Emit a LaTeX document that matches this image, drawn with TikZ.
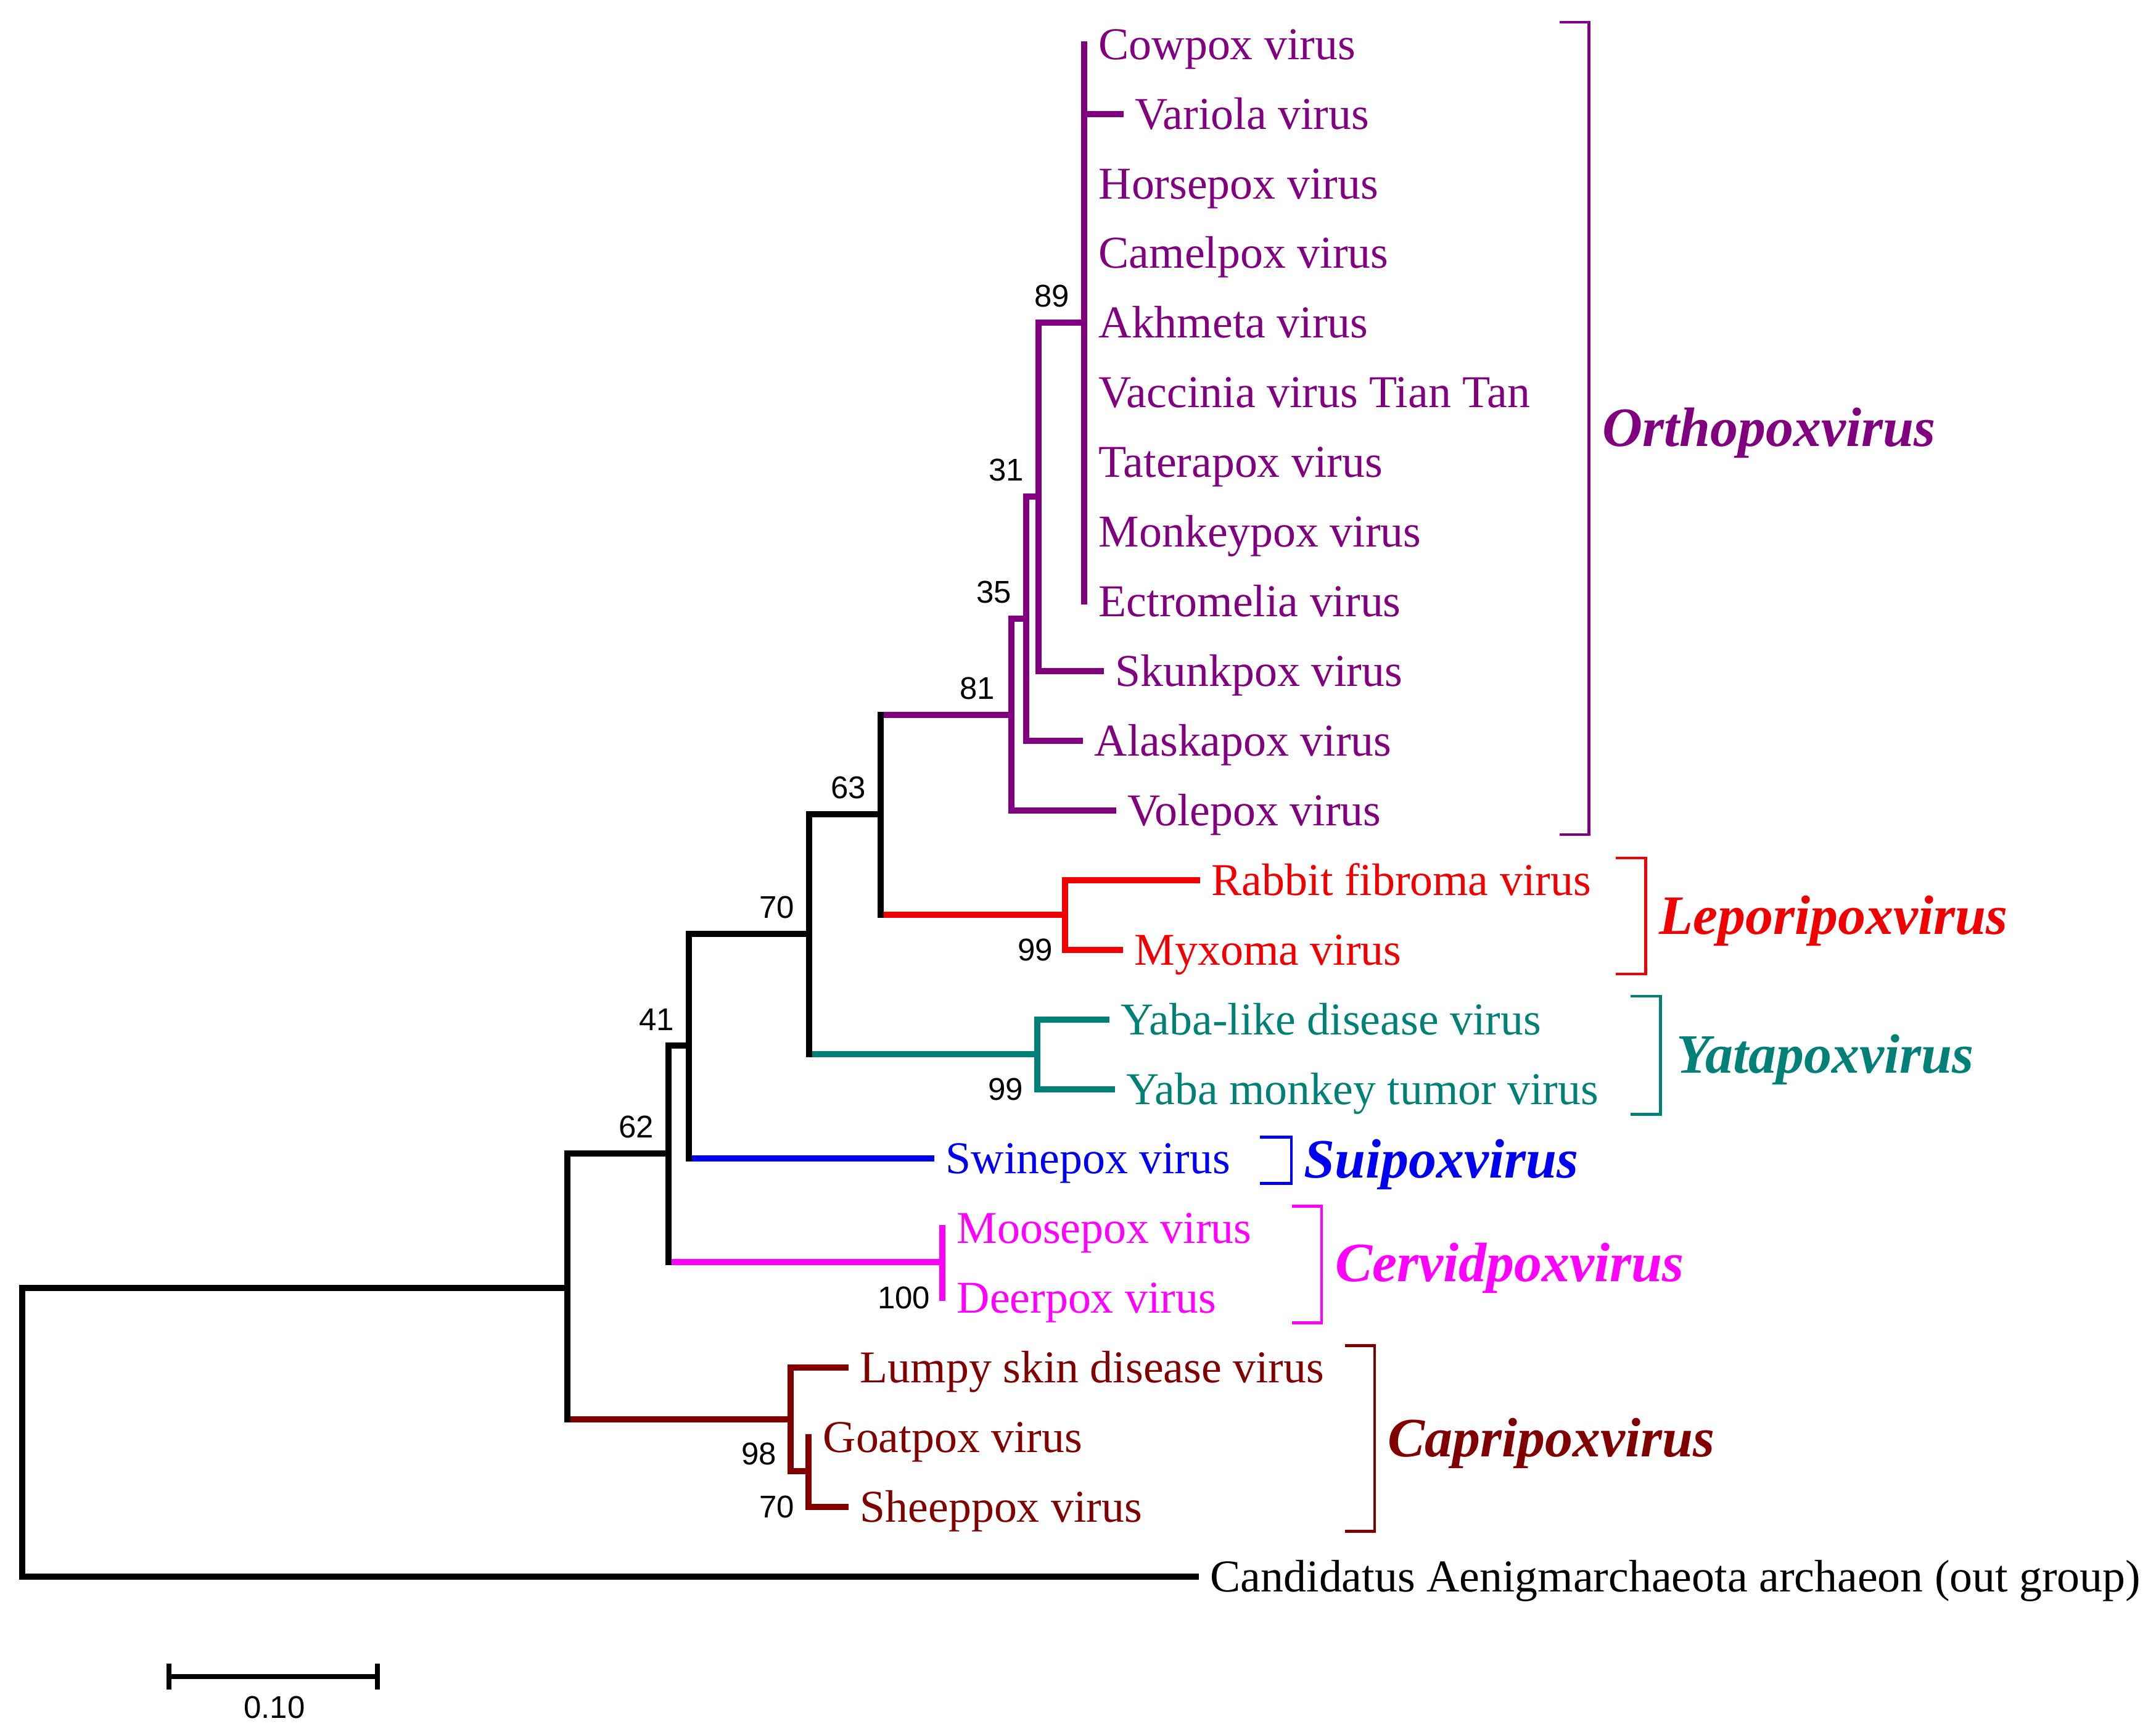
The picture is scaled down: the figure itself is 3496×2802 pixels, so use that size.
\documentclass[tikz,border=0pt]{standalone}
\usepackage{fontspec}
\setmainfont{Liberation Serif}
\newfontfamily\bootfont{Liberation Sans}
\definecolor{orthoc}{RGB}{128,0,128}
\definecolor{lepc}{RGB}{240,0,0}
\definecolor{yatc}{RGB}{0,128,118}
\definecolor{suic}{RGB}{0,0,240}
\definecolor{cerc}{RGB}{255,0,255}
\definecolor{capc}{RGB}{128,0,0}
\begin{document}
\begin{tikzpicture}[x=0.1mm, y=-0.1mm,
    br/.style={line width=3pt, line cap=rect},
    leaf/.style={anchor=west, inner xsep=2.3mm, inner ysep=0pt, text height=13.9pt, text depth=0pt, font=\fontsize{21}{25}\selectfont},
    bs/.style={inner sep=0pt, font=\bootfont\fontsize{14.5}{17}\selectfont},
    genus/.style={anchor=west, inner sep=0pt, text height=16.9pt, text depth=0pt, font=\fontsize{25.6}{30}\selectfont\bfseries\itshape},
    brak/.style={line width=1.4pt}]
\useasboundingbox (0,0) rectangle (3496,2802);

% inner nodes
\coordinate (root) at (36,2320);
\coordinate (ingr) at (920,2088);
\coordinate (n62) at (1084,1870);
\coordinate (n41) at (1117,1695);
\coordinate (n70) at (1312,1514);
\coordinate (n63) at (1428,1320);
\coordinate (n81) at (1640,1159);
\coordinate (n35) at (1664,1003);
\coordinate (n31) at (1684,805);
\coordinate (n89) at (1758,523);
\coordinate (n99a) at (1727,1483);
\coordinate (n99b) at (1682,1709);
\coordinate (n100) at (1528,2046);
\coordinate (n98) at (1282,2301);
\coordinate (n70b) at (1311,2385);

% leaves
\foreach \nm/\txt/\yy in {cowpox/Cowpox virus/72, horsepox/Horsepox virus/298, camelpox/Camelpox virus/410, akhmeta/Akhmeta virus/523, vaccinia/Vaccinia virus Tian Tan/636, taterapox/Taterapox virus/749, monkeypox/Monkeypox virus/862, ectromelia/Ectromelia virus/975}
    \node[leaf, orthoc] (\nm) at (1758,\yy) {\txt};
\node[leaf, orthoc] (variola) at (1817,185) {Variola virus};
\node[leaf, orthoc] (skunkpox) at (1785,1088) {Skunkpox virus};
\node[leaf, orthoc] (alaskapox) at (1751,1201) {Alaskapox virus};
\node[leaf, orthoc] (volepox) at (1805,1314) {Volepox virus};
\node[leaf, lepc] (rabbit) at (1941,1427) {Rabbit fibroma virus};
\node[leaf, lepc] (myxoma) at (1816,1540) {Myxoma virus};
\node[leaf, yatc] (yabalike) at (1794,1653) {Yaba-like disease virus};
\node[leaf, yatc] (yabamonkey) at (1803,1766) {Yaba monkey tumor virus};
\node[leaf, suic] (swinepox) at (1510,1878) {Swinepox virus};
\node[leaf, cerc] (moosepox) at (1528,1991) {Moosepox virus};
\node[leaf, cerc] (deerpox) at (1528,2104) {Deerpox virus};
\node[leaf, capc] (lumpy) at (1371,2217) {Lumpy skin disease virus};
\node[leaf, capc] (goatpox) at (1311,2330) {Goatpox virus};
\node[leaf, capc] (sheeppox) at (1371,2443) {Sheeppox virus};
\node[leaf] (outgr) at (1939,2556) {Candidatus Aenigmarchaeota archaeon (out group)};

% branches
\draw[br, orthoc] (cowpox.west) -- (ectromelia.west);
\draw[br, orthoc] (cowpox.west |- variola) -- (variola.west);
\draw[br, orthoc] (n89) -| (n31) |- (skunkpox.west);
\draw[br, orthoc] (n31) -| (n35) |- (alaskapox.west);
\draw[br, orthoc] (n35) -| (n81) |- (volepox.west);
\draw[br, orthoc] (n81) -- (n81 -| n63);
\draw[br, lepc] (rabbit.west) -| (n99a) |- (myxoma.west);
\draw[br, lepc] (n99a) -- (n99a -| n63);
\draw[br, yatc] (yabalike.west) -| (n99b) |- (yabamonkey.west);
\draw[br, yatc] (n99b) -- (n99b -| n70);
\draw[br, suic] (swinepox.west) -- (swinepox -| n41);
\draw[br, cerc] (moosepox.west) -- (deerpox.west);
\draw[br, cerc] (n100) -- (n100 -| n62);
\draw[br, capc] (lumpy.west) -| (n98) |- (n70b);
\draw[br, capc] (goatpox.west) |- (sheeppox.west);
\draw[br, capc] (n98) -- (n98 -| ingr);
\draw[br] (n81 -| n63) -- (n99a -| n63);
\draw[br] (n63) -| (n70) -- (n70 |- n99b);
\draw[br] (n70) -| (n41) -- (n41 |- swinepox);
\draw[br] (n41) -| (n62) -- (n62 |- n100);
\draw[br] (n62) -| (ingr) -- (ingr |- n98);
\draw[br] (ingr) -| (root) |- (outgr.west);

% bootstrap values
\node[bs, anchor=south east, xshift=-2.3mm, yshift=2.4mm] (b89) at (n89) {89};
\node[bs, anchor=south east, xshift=-2.3mm, yshift=2.4mm] (b31) at (n31) {31};
\node[bs, anchor=south east, xshift=-2.3mm, yshift=2.4mm] (b35) at (n35) {35};
\node[bs, anchor=south east, xshift=-2.6mm, yshift=2.4mm] (b81) at (n81) {81};
\node[bs, anchor=south east, xshift=-2.3mm, yshift=2.4mm] (b63) at (n63) {63};
\node[bs, anchor=south east, xshift=-2.3mm, yshift=2.4mm] (b70) at (n70) {70};
\node[bs, anchor=south east, xshift=-2.3mm, yshift=2.4mm] (b41) at (n41) {41};
\node[bs, anchor=south east, xshift=-2.3mm, yshift=2.4mm] (b62) at (n62) {62};
\node[bs, anchor=east, xshift=-1.9mm] (b99a) at (n99a |- myxoma) {99};
\node[bs, anchor=east, xshift=-2.2mm] (b99b) at (n99b |- yabamonkey) {99};
\node[bs, anchor=east, xshift=-1.9mm] (b100) at (n100 |- deerpox) {100};
\node[bs, anchor=east, xshift=-2.2mm, yshift=-5.6mm] (b98) at (n98) {98};
\node[bs, anchor=east, xshift=-2.2mm] (b70b) at (n70b |- sheeppox) {70};

% genera
\node[genus, orthoc] (ortho) at (2598,694) {Orthopoxvirus};
\draw[brak, orthoc] (2529,36) -| (2576,1353) -- (2529,1353);
\node[genus, lepc] (lepo) at (2690,1485) {Leporipoxvirus};
\draw[brak, lepc] (2620,1391) -| (2668,1579) -- (2620,1579);
\node[genus, yatc] (yata) at (2718,1710) {Yatapoxvirus};
\draw[brak, yatc] (2644,1615) -| (2692,1806) -- (2644,1806);
\node[genus, suic] (suip) at (2114,1880) {Suipoxvirus};
\draw[brak, suic] (2043,1843) -| (2094,1918) -- (2043,1918);
\node[genus, cerc] (cerv) at (2165,2048) {Cervidpoxvirus};
\draw[brak, cerc] (2095,1955) -| (2143,2144) -- (2095,2144);
\node[genus, capc] (capr) at (2250,2332) {Capripoxvirus};
\draw[brak, capc] (2181,2181) -| (2229,2482) -- (2181,2482);

% scale bar
\coordinate (sb0) at (274,2718);
\coordinate (sb1) at (612,2718);
\draw[line width=2.4pt] (sb0) -- (sb1);
\draw[line width=2pt] ([yshift=2.1mm]sb0) -- ([yshift=-2.1mm]sb0);
\draw[line width=2pt] ([yshift=2.1mm]sb1) -- ([yshift=-2.1mm]sb1);
\node[bs] (sbl) at (445,2768) {0.10};

\end{tikzpicture}
\end{document}
